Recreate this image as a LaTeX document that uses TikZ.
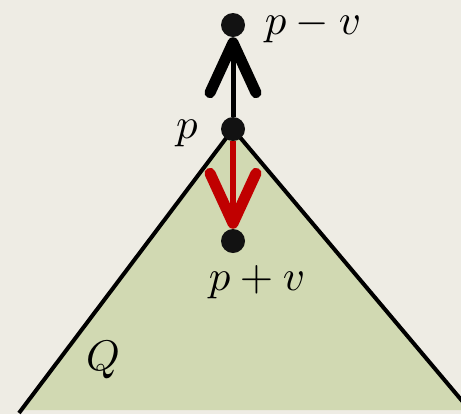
\documentclass[tikz,border=0pt]{standalone}
\usepackage{graphicx}
\usepackage{xcolor}
\usepackage{tikz}
\usetikzlibrary{arrows.meta}
\definecolor{paper}{HTML}{EEECE4}
\definecolor{coneg}{HTML}{D1D9B2}
\definecolor{darkred}{HTML}{C00000}
\newcommand{\lblmath}[1]{\scalebox{4.3}{$#1$}}

\begin{document}
\begin{tikzpicture}[x=1bp,y=-1bp,
 pt/.style={circle,fill=black!93,inner sep=0pt,minimum size=24bp},
 lbl/.style={inner sep=0pt,anchor=base},
 vec/.style={line width=5bp,-{Straight Barb[length=50bp,width=46bp,line width=11bp,round]}}]
% background and cone
\fill[paper] (0,0) rectangle (461,414);
\useasboundingbox (0,0) rectangle (461,414);
\fill[coneg] (233,129) -- (21,410) -- (470,410) -- cycle;
\draw[line width=4bp] (19,413) -- (233,129) -- (474,415);
\node[pt] (p) at (233,129) {};
\node[pt] (pmv) at (233,25) {};
\node[pt] (ppv) at (233,241) {};
\node[lbl] (lp) at (187,138) {\lblmath{p}};
\node[lbl] (lpmv) at (313,34) {\lblmath{p-v}};
\node[lbl] (lppv) at (257,290) {\lblmath{p+v}};
\node[lbl] (lq) at (103,370) {\lblmath{Q}};
\draw[vec] (p) -- (pmv);
\draw[vec,line width=6bp,darkred] (p) -- (ppv);
\end{tikzpicture}
\end{document}
